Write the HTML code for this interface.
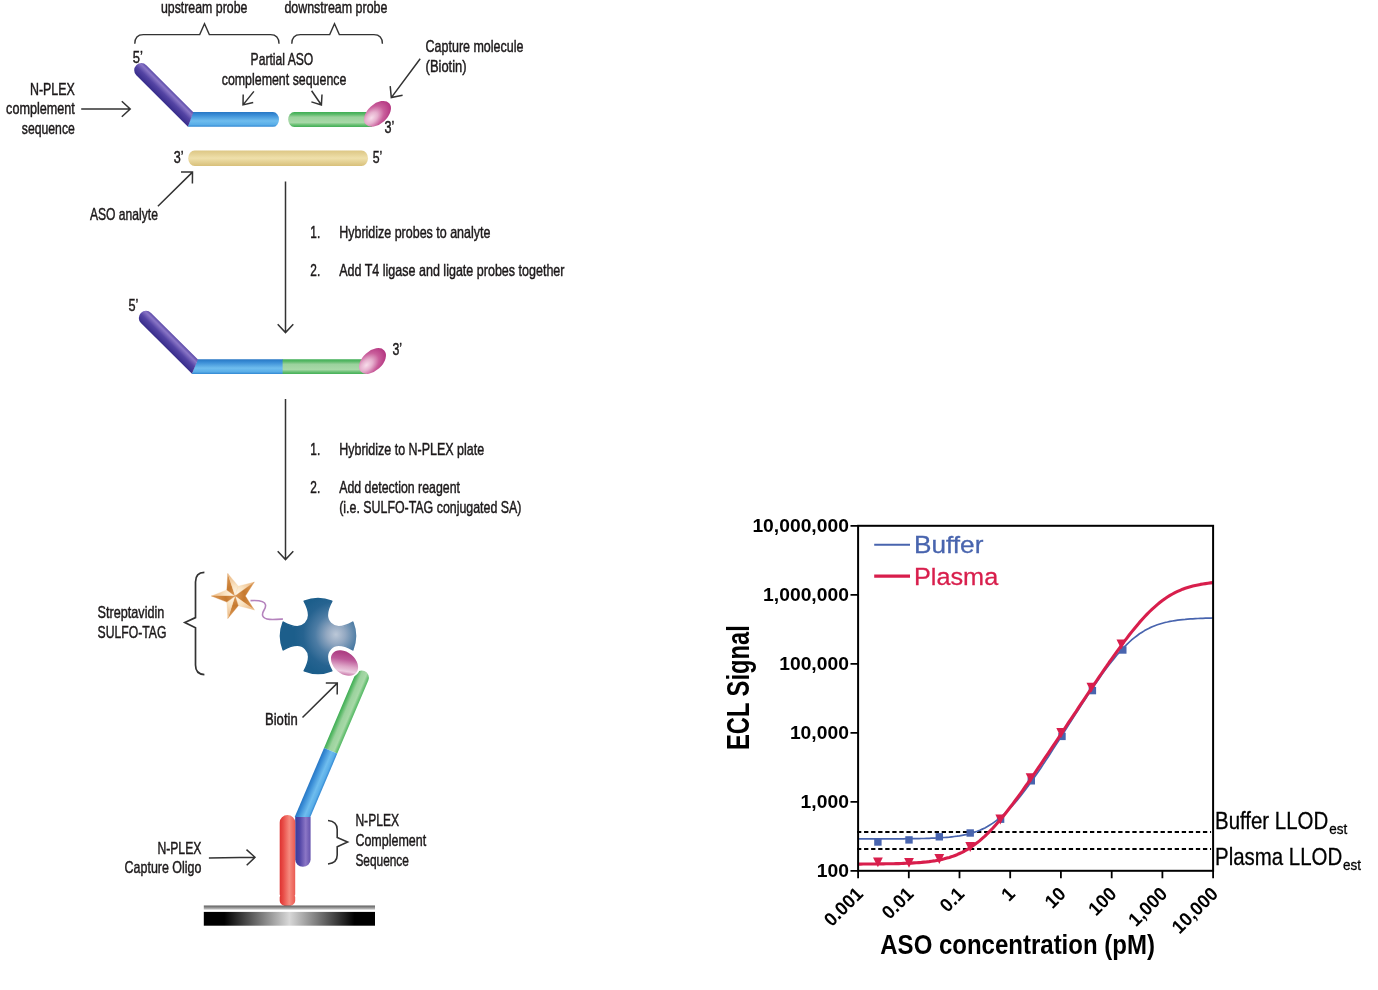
<!DOCTYPE html>
<html><head><meta charset="utf-8"><title>ASO N-PLEX assay</title>
<style>
html,body{margin:0;padding:0;background:#fff;overflow:hidden;}
svg{display:block;}
text{font-family:"Liberation Sans",sans-serif;}
</style></head>
<body>
<svg width="1378" height="990" viewBox="0 0 1378 990">
<rect width="1378" height="990" fill="#ffffff"/>

<defs>
<linearGradient id="gBlue" x1="0" y1="0" x2="0" y2="1">
<stop offset="0" stop-color="#2777c4"/><stop offset="0.2" stop-color="#3a8dd6"/><stop offset="0.6" stop-color="#6fbdee"/><stop offset="0.85" stop-color="#5aaee8"/><stop offset="1" stop-color="#3187d2"/>
</linearGradient>
<linearGradient id="gGreen" x1="0" y1="0" x2="0" y2="1">
<stop offset="0" stop-color="#3fae55"/><stop offset="0.14" stop-color="#5ab968"/><stop offset="0.34" stop-color="#9bd29d"/><stop offset="0.7" stop-color="#a8d9a8"/><stop offset="0.88" stop-color="#62bd6e"/><stop offset="1" stop-color="#45b058"/>
</linearGradient>
<linearGradient id="gYellow" x1="0" y1="0" x2="0" y2="1">
<stop offset="0" stop-color="#dcc684"/><stop offset="0.5" stop-color="#efe0ab"/><stop offset="1" stop-color="#d8c07a"/>
</linearGradient>
<linearGradient id="gPurple" x1="0" y1="0" x2="0" y2="1">
<stop offset="0" stop-color="#5b4aa9"/><stop offset="0.22" stop-color="#8a76c6"/><stop offset="0.55" stop-color="#5444a4"/><stop offset="1" stop-color="#372c8a"/>
</linearGradient>
<linearGradient id="gRed" x1="0" y1="0" x2="0" y2="1">
<stop offset="0" stop-color="#d9262c"/><stop offset="0.5" stop-color="#f47a72"/><stop offset="1" stop-color="#dc2a30"/>
</linearGradient>
<radialGradient id="gBiotin" cx="0.27" cy="0.45" r="0.75">
<stop offset="0" stop-color="#f7dcea"/><stop offset="0.3" stop-color="#e6b0ce"/><stop offset="0.62" stop-color="#c95e9b"/><stop offset="1" stop-color="#b2327e"/>
</radialGradient>
<radialGradient id="gSA" gradientUnits="userSpaceOnUse" cx="336" cy="634.5" r="42">
<stop offset="0" stop-color="#bcc8d8"/><stop offset="0.22" stop-color="#94a9c2"/><stop offset="0.5" stop-color="#4d7ca4"/><stop offset="0.78" stop-color="#266390"/><stop offset="1" stop-color="#1c5e8b"/>
</radialGradient>
<linearGradient id="gBlue3" x1="0" y1="1" x2="0" y2="0">
<stop offset="0" stop-color="#2777c4"/><stop offset="0.2" stop-color="#3a8dd6"/><stop offset="0.6" stop-color="#6fbdee"/><stop offset="0.85" stop-color="#5aaee8"/><stop offset="1" stop-color="#3187d2"/>
</linearGradient>
<linearGradient id="gGreen3" x1="0" y1="1" x2="0" y2="0">
<stop offset="0" stop-color="#3fae55"/><stop offset="0.14" stop-color="#5ab968"/><stop offset="0.38" stop-color="#9bd29d"/><stop offset="0.72" stop-color="#a8d9a8"/><stop offset="0.9" stop-color="#6cc276"/><stop offset="1" stop-color="#55ba66"/>
</linearGradient>
<linearGradient id="gPlate" x1="0" y1="0" x2="1" y2="0">
<stop offset="0" stop-color="#000"/><stop offset="0.12" stop-color="#000"/><stop offset="0.5" stop-color="#d8d8d8"/><stop offset="0.88" stop-color="#000"/><stop offset="1" stop-color="#000"/>
</linearGradient>
<linearGradient id="gPlateTop" x1="0" y1="0" x2="0" y2="1">
<stop offset="0" stop-color="#5c5c5c"/><stop offset="0.45" stop-color="#8c8c8c"/><stop offset="1" stop-color="#d0d0d0"/>
</linearGradient>
</defs>

<g id="shapes">
<path d="M134.8,43.8 Q134.8,34.6 143.3,34.6 L199.7,34.6 L204.5,23.8 L209.3,34.6 L270.5,34.6 Q279.0,34.6 279.0,43.8" fill="none" stroke="#333333" stroke-width="1.4" stroke-linejoin="miter"/>
<path d="M291.8,43.8 Q291.8,34.6 300.3,34.6 L329.7,34.6 L334.5,23.8 L339.3,34.6 L373.9,34.6 Q382.4,34.6 382.4,43.8" fill="none" stroke="#333333" stroke-width="1.4" stroke-linejoin="miter"/>
<path d="M192.9,112 L273,112 A6,7.4 0 0 1 273,126.8 L187.9,126.8 Z" fill="url(#gBlue)"/>
<path d="M0,-7.10 L66.48,-7.10 L72.97,7.10 L0,7.10 A7.10,7.10 0 0 1 0,-7.10 Z" fill="url(#gPurple)" transform="translate(141.30,70.20) rotate(44.94)"/>
<path d="M294.2,112.1 L372.0,112.1 L372.0,126.9 L294.2,126.9 A6.0,7.4 0 0 1 294.2,112.1 Z" fill="url(#gGreen)"/>
<ellipse cx="0" cy="0" rx="15.8" ry="9.9" fill="url(#gBiotin)" transform="translate(377.5,113.8) rotate(-42)"/>
<path d="M194.7,150.4 L361.5,150.4 A6.5,7.8 0 0 1 361.5,166.0 L194.7,166.0 A6.5,7.8 0 0 1 194.7,150.4 Z" fill="url(#gYellow)"/>
<path d="M81.2,109.0 L130.2,109.0 M121.8,116.8 L130.2,109.0 L121.8,101.2" fill="none" stroke="#333333" stroke-width="1.5" stroke-linecap="butt" stroke-linejoin="miter"/>
<path d="M157.9,206.3 L192.5,172.1 M192.4,183.6 L192.5,172.1 L181.0,172.0" fill="none" stroke="#333333" stroke-width="1.5" stroke-linecap="butt" stroke-linejoin="miter"/>
<path d="M420.2,58.8 L391.3,97.6 M390.2,86.1 L391.3,97.6 L402.6,95.3" fill="none" stroke="#333333" stroke-width="1.5" stroke-linecap="butt" stroke-linejoin="miter"/>
<path d="M253.9,91.4 L243.0,104.9 M243.2,94.4 L243.0,104.9 L253.2,102.5" fill="none" stroke="#333333" stroke-width="1.5" stroke-linecap="butt" stroke-linejoin="miter"/>
<path d="M311.6,90.8 L321.4,105.0 M311.4,101.9 L321.4,105.0 L322.0,94.5" fill="none" stroke="#333333" stroke-width="1.5" stroke-linecap="butt" stroke-linejoin="miter"/>
<path d="M285.5,181.6 L285.5,332.6 M277.7,324.2 L285.5,332.6 L293.3,324.2" fill="none" stroke="#333333" stroke-width="1.5" stroke-linecap="butt" stroke-linejoin="miter"/>
<path d="M285.5,399.0 L285.5,559.6 M277.7,551.2 L285.5,559.6 L293.3,551.2" fill="none" stroke="#333333" stroke-width="1.5" stroke-linecap="butt" stroke-linejoin="miter"/>
<path d="M197.6,359.3 L283,359.3 L283,374 L191.8,374 Z" fill="url(#gBlue)"/>
<path d="M0,-7.20 L66.13,-7.20 L71.96,7.20 L0,7.20 A7.20,7.20 0 0 1 0,-7.20 Z" fill="url(#gPurple)" transform="translate(146.00,318.00) rotate(44.85)"/>
<path d="M282.6,359.3 L368.0,359.3 L368.0,374.0 L282.6,374.0 Z" fill="url(#gGreen)"/>
<ellipse cx="0" cy="0" rx="15.8" ry="9.9" fill="url(#gBiotin)" transform="translate(372.5,361.0) rotate(-42)"/>
<path d="M250.5,600.6 C257,600.2 264.6,600.2 265.5,604.8 C266.4,609.5 261,611.5 262.8,616 C264.6,620.5 274,619.6 283,619.0" fill="none" stroke="#b583bd" stroke-width="1.6"/>
<defs><radialGradient id="gStL" gradientUnits="userSpaceOnUse" cx="235.1" cy="596.0" r="23.7"><stop offset="0" stop-color="#fffaf0"/><stop offset="0.45" stop-color="#f9e2c0"/><stop offset="1" stop-color="#e9b078"/></radialGradient><radialGradient id="gStD" gradientUnits="userSpaceOnUse" cx="235.1" cy="596.0" r="23.7"><stop offset="0" stop-color="#dc9a58"/><stop offset="0.4" stop-color="#c67a30"/><stop offset="1" stop-color="#dd9a55"/></radialGradient></defs>
<path d="M235.1,596.0 L211.4,596.0 L226.8,589.9 Z" fill="url(#gStL)" stroke="#f3cfa0" stroke-width="0.3"/>
<path d="M235.1,596.0 L226.8,589.9 L227.8,573.5 Z" fill="url(#gStD)" stroke="#cf8440" stroke-width="0.3"/>
<path d="M235.1,596.0 L227.8,573.5 L238.3,586.2 Z" fill="url(#gStL)" stroke="#f3cfa0" stroke-width="0.3"/>
<path d="M235.1,596.0 L238.3,586.2 L254.3,582.1 Z" fill="url(#gStL)" stroke="#f3cfa0" stroke-width="0.3"/>
<path d="M235.1,596.0 L254.3,582.1 L245.4,596.0 Z" fill="url(#gStD)" stroke="#cf8440" stroke-width="0.3"/>
<path d="M235.1,596.0 L245.4,596.0 L254.3,609.9 Z" fill="url(#gStD)" stroke="#cf8440" stroke-width="0.3"/>
<path d="M235.1,596.0 L254.3,609.9 L238.3,605.8 Z" fill="url(#gStL)" stroke="#f3cfa0" stroke-width="0.3"/>
<path d="M235.1,596.0 L238.3,605.8 L227.8,618.5 Z" fill="url(#gStD)" stroke="#cf8440" stroke-width="0.3"/>
<path d="M235.1,596.0 L227.8,618.5 L226.8,602.1 Z" fill="url(#gStL)" stroke="#f3cfa0" stroke-width="0.3"/>
<path d="M235.1,596.0 L226.8,602.1 L211.4,596.0 Z" fill="url(#gStD)" stroke="#cf8440" stroke-width="0.3"/>
<path d="M352.80,649.85 C347.80,647.10 344.20,645.35 338.70,645.35 A11.35,11.35 0 0 0 327.35,656.70 C327.35,662.20 329.10,665.80 331.85,670.80 A37.45,37.45 0 0 1 304.15,670.80 C306.90,665.80 308.65,662.20 308.65,656.70 A11.35,11.35 0 0 0 297.30,645.35 C291.80,645.35 288.20,647.10 283.20,649.85 A37.45,37.45 0 0 1 283.20,622.15 C288.20,624.90 291.80,626.65 297.30,626.65 A11.35,11.35 0 0 0 308.65,615.30 C308.65,609.80 306.90,606.20 304.15,601.20 A37.45,37.45 0 0 1 331.85,601.20 C329.10,606.20 327.35,609.80 327.35,615.30 A11.35,11.35 0 0 0 338.70,626.65 C344.20,626.65 347.80,624.90 352.80,622.15 A37.45,37.45 0 0 1 352.80,649.85 Z" fill="url(#gSA)" stroke="url(#gSA)" stroke-width="1.5" stroke-linejoin="round"/>
<g transform="translate(361.7,677.6) rotate(113.0)"><path d="M0,-7.2 L79.5,-7.2 L79.5,7.2 L0,7.2 A7.2,7.2 0 0 1 0,-7.2 Z" fill="url(#gGreen3)"/><path d="M79.5,-7.2 L148.4,-7.2 L154.5,7.2 L79.5,7.2 Z" fill="url(#gBlue3)"/></g>
<defs><linearGradient id="gBio3" gradientUnits="userSpaceOnUse" x1="-5.2" y1="-8.6" x2="5.8" y2="9.6"><stop offset="0" stop-color="#ae3f84"/><stop offset="0.3" stop-color="#bd5a9a"/><stop offset="0.62" stop-color="#dda4c6"/><stop offset="0.85" stop-color="#eccbe0"/><stop offset="1" stop-color="#cf86b2"/></linearGradient></defs>
<ellipse cx="0" cy="0" rx="16.1" ry="11.5" fill="url(#gBio3)" stroke="#ffffff" stroke-width="1.6" transform="translate(344.5,663.0) rotate(40)"/>
<defs><linearGradient id="gPurpleH" x1="0" y1="0" x2="1" y2="0"><stop offset="0" stop-color="#3a3c9b"/><stop offset="0.3" stop-color="#5246a6"/><stop offset="0.68" stop-color="#8b76c6"/><stop offset="1" stop-color="#6452ac"/></linearGradient><linearGradient id="gRedH" x1="0" y1="0" x2="1" y2="0"><stop offset="0" stop-color="#de3230"/><stop offset="0.25" stop-color="#e9504a"/><stop offset="0.62" stop-color="#f58a7e"/><stop offset="1" stop-color="#ea5a52"/></linearGradient></defs>
<path d="M295.2,817 L310.6,817 L310.6,859.6 A7.7,7.2 0 0 1 295.2,859.6 Z" fill="url(#gPurpleH)"/>
<path d="M279.7,822.4 A7.75,7.4 0 0 1 295.2,822.4 L295.2,894.6 L294.7,895.8 L295.2,897 L295.2,901 A7.75,5.2 0 0 1 279.7,901 L279.7,897 L280.2,895.8 L279.7,894.6 Z" fill="url(#gRedH)"/>
<rect x="203.8" y="905.5" width="171.2" height="4.2" fill="url(#gPlateTop)"/>
<rect x="203.8" y="911.9" width="171.2" height="13.8" fill="url(#gPlate)"/>
<path d="M204.4,572.4 Q195.5,572.6 195.5,582 L195.5,617.6 L184.8,622.6 L195.5,627.8 L195.5,665 Q195.5,674.3 204.4,674.6" fill="none" stroke="#333333" stroke-width="1.7"/>
<path d="M328.0,820.5 Q337.2,821.5 337.2,829.5 L337.2,837.5 L347.6,842.1 L337.2,846.8 L337.2,855 Q337.2,863 328.0,864" fill="none" stroke="#333333" stroke-width="1.6"/>
<path d="M302.5,717.5 L337.3,683.1 M337.2,694.6 L337.3,683.1 L325.8,683.0" fill="none" stroke="#333333" stroke-width="1.5" stroke-linecap="butt" stroke-linejoin="miter"/>
<path d="M208.9,858.0 L255.0,857.3 M246.7,865.3 L255.0,857.3 L246.5,849.6" fill="none" stroke="#333333" stroke-width="1.5" stroke-linecap="butt" stroke-linejoin="miter"/>
<path d="M857.0,832.0 L1211.1,832.0" stroke="#000000" stroke-width="2" stroke-dasharray="4.3,2.76" fill="none"/>
<path d="M857.0,849.0 L1211.1,849.0" stroke="#000000" stroke-width="2" stroke-dasharray="4.3,2.76" fill="none"/>
<path d="M858.1,838.9 L860.6,838.9 L863.2,838.9 L865.7,838.9 L868.2,838.9 L870.8,838.9 L873.3,838.9 L875.8,838.9 L878.4,838.9 L880.9,838.9 L883.5,838.9 L886.0,838.9 L888.5,838.9 L891.1,838.8 L893.6,838.8 L896.1,838.8 L898.7,838.8 L901.2,838.8 L903.7,838.8 L906.3,838.7 L908.8,838.7 L911.3,838.7 L913.9,838.7 L916.4,838.6 L919.0,838.6 L921.5,838.5 L924.0,838.5 L926.6,838.4 L929.1,838.3 L931.6,838.2 L934.2,838.1 L936.7,838.0 L939.2,837.9 L941.8,837.7 L944.3,837.5 L946.8,837.3 L949.4,837.1 L951.9,836.8 L954.4,836.5 L957.0,836.2 L959.5,835.8 L962.1,835.3 L964.6,834.8 L967.1,834.3 L969.7,833.6 L972.2,832.9 L974.7,832.1 L977.3,831.2 L979.8,830.2 L982.3,829.1 L984.9,827.9 L987.4,826.5 L989.9,825.0 L992.5,823.4 L995.0,821.6 L997.6,819.7 L1000.1,817.7 L1002.6,815.5 L1005.2,813.1 L1007.7,810.6 L1010.2,808.0 L1012.8,805.3 L1015.3,802.4 L1017.8,799.4 L1020.4,796.3 L1022.9,793.0 L1025.4,789.7 L1028.0,786.3 L1030.5,782.8 L1033.0,779.2 L1035.6,775.6 L1038.1,771.9 L1040.7,768.2 L1043.2,764.4 L1045.7,760.6 L1048.3,756.7 L1050.8,752.8 L1053.3,748.9 L1055.9,744.9 L1058.4,741.0 L1060.9,737.0 L1063.5,733.0 L1066.0,729.0 L1068.5,725.1 L1071.1,721.1 L1073.6,717.1 L1076.2,713.1 L1078.7,709.2 L1081.2,705.3 L1083.8,701.4 L1086.3,697.5 L1088.8,693.6 L1091.4,689.8 L1093.9,686.1 L1096.4,682.4 L1099.0,678.7 L1101.5,675.1 L1104.0,671.6 L1106.6,668.1 L1109.1,664.8 L1111.7,661.5 L1114.2,658.4 L1116.7,655.3 L1119.3,652.4 L1121.8,649.6 L1124.3,646.9 L1126.9,644.4 L1129.4,642.0 L1131.9,639.7 L1134.5,637.6 L1137.0,635.7 L1139.5,633.8 L1142.1,632.2 L1144.6,630.6 L1147.1,629.2 L1149.7,627.9 L1152.2,626.8 L1154.8,625.7 L1157.3,624.8 L1159.8,624.0 L1162.4,623.2 L1164.9,622.5 L1167.4,622.0 L1170.0,621.4 L1172.5,621.0 L1175.0,620.6 L1177.6,620.2 L1180.1,619.9 L1182.6,619.6 L1185.2,619.4 L1187.7,619.1 L1190.3,618.9 L1192.8,618.8 L1195.3,618.6 L1197.9,618.5 L1200.4,618.4 L1202.9,618.3 L1205.5,618.2 L1208.0,618.2 L1210.5,618.1 L1213.1,618.0" fill="none" stroke="#4864ae" stroke-width="1.7" stroke-linejoin="round"/>
<rect x="874.2" y="838.3" width="7.4" height="7.4" fill="#4864ae"/>
<rect x="905.3" y="836.2" width="7.4" height="7.4" fill="#4864ae"/>
<rect x="935.6" y="833.1" width="7.4" height="7.4" fill="#4864ae"/>
<rect x="966.5" y="829.3" width="7.4" height="7.4" fill="#4864ae"/>
<rect x="996.9" y="815.5" width="7.4" height="7.4" fill="#4864ae"/>
<rect x="1027.6" y="777.1" width="7.4" height="7.4" fill="#4864ae"/>
<rect x="1058.3" y="732.7" width="7.4" height="7.4" fill="#4864ae"/>
<rect x="1088.7" y="686.9" width="7.4" height="7.4" fill="#4864ae"/>
<rect x="1119.1" y="646.3" width="7.4" height="7.4" fill="#4864ae"/>
<path d="M858.1,864.1 L860.6,864.1 L863.2,864.0 L865.7,864.0 L868.2,864.0 L870.8,864.0 L873.3,864.0 L875.8,864.0 L878.4,863.9 L880.9,863.9 L883.5,863.9 L886.0,863.8 L888.5,863.8 L891.1,863.8 L893.6,863.7 L896.1,863.6 L898.7,863.6 L901.2,863.5 L903.7,863.4 L906.3,863.3 L908.8,863.2 L911.3,863.1 L913.9,862.9 L916.4,862.8 L919.0,862.6 L921.5,862.4 L924.0,862.1 L926.6,861.9 L929.1,861.6 L931.6,861.2 L934.2,860.9 L936.7,860.4 L939.2,859.9 L941.8,859.4 L944.3,858.8 L946.8,858.1 L949.4,857.4 L951.9,856.6 L954.4,855.7 L957.0,854.7 L959.5,853.5 L962.1,852.3 L964.6,851.0 L967.1,849.6 L969.7,848.0 L972.2,846.3 L974.7,844.5 L977.3,842.6 L979.8,840.6 L982.3,838.4 L984.9,836.1 L987.4,833.7 L989.9,831.1 L992.5,828.5 L995.0,825.7 L997.6,822.8 L1000.1,819.9 L1002.6,816.9 L1005.2,813.7 L1007.7,810.5 L1010.2,807.3 L1012.8,803.9 L1015.3,800.5 L1017.8,797.1 L1020.4,793.6 L1022.9,790.1 L1025.4,786.5 L1028.0,782.9 L1030.5,779.2 L1033.0,775.6 L1035.6,771.9 L1038.1,768.2 L1040.7,764.4 L1043.2,760.7 L1045.7,756.9 L1048.3,753.2 L1050.8,749.4 L1053.3,745.6 L1055.9,741.8 L1058.4,738.0 L1060.9,734.2 L1063.5,730.3 L1066.0,726.5 L1068.5,722.7 L1071.1,718.9 L1073.6,715.1 L1076.2,711.3 L1078.7,707.4 L1081.2,703.6 L1083.8,699.8 L1086.3,696.0 L1088.8,692.3 L1091.4,688.5 L1093.9,684.7 L1096.4,681.0 L1099.0,677.2 L1101.5,673.5 L1104.0,669.8 L1106.6,666.2 L1109.1,662.5 L1111.7,658.9 L1114.2,655.3 L1116.7,651.8 L1119.3,648.3 L1121.8,644.8 L1124.3,641.4 L1126.9,638.1 L1129.4,634.8 L1131.9,631.6 L1134.5,628.4 L1137.0,625.4 L1139.5,622.4 L1142.1,619.5 L1144.6,616.8 L1147.1,614.1 L1149.7,611.5 L1152.2,609.1 L1154.8,606.8 L1157.3,604.6 L1159.8,602.5 L1162.4,600.5 L1164.9,598.7 L1167.4,597.0 L1170.0,595.4 L1172.5,594.0 L1175.0,592.6 L1177.6,591.4 L1180.1,590.3 L1182.6,589.2 L1185.2,588.3 L1187.7,587.5 L1190.3,586.7 L1192.8,586.0 L1195.3,585.4 L1197.9,584.9 L1200.4,584.4 L1202.9,584.0 L1205.5,583.6 L1208.0,583.2 L1210.5,582.9 L1213.1,582.6" fill="none" stroke="#d81e4c" stroke-width="3.1" stroke-linejoin="round"/>
<path d="M873.0,857.4 L882.8,857.4 L877.9,867.2 Z" fill="#d81e4c"/>
<path d="M904.1,858.0 L913.9,858.0 L909.0,867.8 Z" fill="#d81e4c"/>
<path d="M934.4,854.1 L944.2,854.1 L939.3,863.9 Z" fill="#d81e4c"/>
<path d="M965.3,842.1 L975.1,842.1 L970.2,851.9 Z" fill="#d81e4c"/>
<path d="M995.4,814.6 L1005.2,814.6 L1000.3,824.4 Z" fill="#d81e4c"/>
<path d="M1025.7,773.2 L1035.5,773.2 L1030.6,783.0 Z" fill="#d81e4c"/>
<path d="M1056.3,728.1 L1066.1,728.1 L1061.2,737.9 Z" fill="#d81e4c"/>
<path d="M1086.5,682.8 L1096.3,682.8 L1091.4,692.6 Z" fill="#d81e4c"/>
<path d="M1116.5,639.4 L1126.3,639.4 L1121.4,649.2 Z" fill="#d81e4c"/>
<rect x="858.1" y="525.8" width="355.0" height="345.0" fill="none" stroke="#000000" stroke-width="2"/>
<path d="M850.5,870.8 L858.1,870.8 M850.5,801.8 L858.1,801.8 M850.5,732.8 L858.1,732.8 M850.5,663.8 L858.1,663.8 M850.5,594.8 L858.1,594.8 M850.5,525.8 L858.1,525.8 M858.1,870.8 L858.1,878.2 M908.8,870.8 L908.8,878.2 M959.5,870.8 L959.5,878.2 M1010.2,870.8 L1010.2,878.2 M1060.9,870.8 L1060.9,878.2 M1111.7,870.8 L1111.7,878.2 M1162.4,870.8 L1162.4,878.2 M1213.1,870.8 L1213.1,878.2 " stroke="#000000" stroke-width="1.8" fill="none"/>
<path d="M874.2,544.8 L910,544.8" stroke="#4864ae" stroke-width="1.9"/>
<path d="M874.2,576.2 L910,576.2" stroke="#d81e4c" stroke-width="3.2"/>
</g>
<g id="labels">
<text x="160.9" y="13.1" font-size="16.4" textLength="86.5" lengthAdjust="spacingAndGlyphs" fill="#1c191a" stroke="#1c191a" stroke-width="0.45">upstream probe</text>
<text x="284.4" y="13.1" font-size="16.4" textLength="103.0" lengthAdjust="spacingAndGlyphs" fill="#1c191a" stroke="#1c191a" stroke-width="0.45">downstream probe</text>
<text x="132.8" y="62.8" font-size="16.4" textLength="10.1" lengthAdjust="spacingAndGlyphs" fill="#1c191a" stroke="#1c191a" stroke-width="0.45">5’</text>
<text x="250.6" y="64.9" font-size="16.4" textLength="62.7" lengthAdjust="spacingAndGlyphs" fill="#1c191a" stroke="#1c191a" stroke-width="0.45">Partial ASO</text>
<text x="221.7" y="84.5" font-size="16.4" textLength="124.7" lengthAdjust="spacingAndGlyphs" fill="#1c191a" stroke="#1c191a" stroke-width="0.45">complement sequence</text>
<text x="425.6" y="52.4" font-size="16.4" textLength="97.8" lengthAdjust="spacingAndGlyphs" fill="#1c191a" stroke="#1c191a" stroke-width="0.45">Capture molecule</text>
<text x="425.6" y="72.1" font-size="16.4" textLength="41.0" lengthAdjust="spacingAndGlyphs" fill="#1c191a" stroke="#1c191a" stroke-width="0.45">(Biotin)</text>
<text x="30.0" y="94.5" font-size="16.4" textLength="44.8" lengthAdjust="spacingAndGlyphs" fill="#1c191a" stroke="#1c191a" stroke-width="0.45">N-PLEX</text>
<text x="6.1" y="114.0" font-size="16.4" textLength="68.7" lengthAdjust="spacingAndGlyphs" fill="#1c191a" stroke="#1c191a" stroke-width="0.45">complement</text>
<text x="21.8" y="133.6" font-size="16.4" textLength="53.0" lengthAdjust="spacingAndGlyphs" fill="#1c191a" stroke="#1c191a" stroke-width="0.45">sequence</text>
<text x="384.5" y="132.8" font-size="16.4" textLength="9.8" lengthAdjust="spacingAndGlyphs" fill="#1c191a" stroke="#1c191a" stroke-width="0.45">3’</text>
<text x="173.7" y="162.8" font-size="16.4" textLength="9.8" lengthAdjust="spacingAndGlyphs" fill="#1c191a" stroke="#1c191a" stroke-width="0.45">3’</text>
<text x="372.7" y="162.8" font-size="16.4" textLength="9.6" lengthAdjust="spacingAndGlyphs" fill="#1c191a" stroke="#1c191a" stroke-width="0.45">5’</text>
<text x="89.9" y="219.9" font-size="16.4" textLength="68.0" lengthAdjust="spacingAndGlyphs" fill="#1c191a" stroke="#1c191a" stroke-width="0.45">ASO analyte</text>
<text x="310.3" y="238.2" font-size="16.4" textLength="9.9" lengthAdjust="spacingAndGlyphs" fill="#1c191a" stroke="#1c191a" stroke-width="0.45">1.</text>
<text x="339.2" y="238.2" font-size="16.4" textLength="151.2" lengthAdjust="spacingAndGlyphs" fill="#1c191a" stroke="#1c191a" stroke-width="0.45">Hybridize probes to analyte</text>
<text x="310.3" y="276.4" font-size="16.4" textLength="9.9" lengthAdjust="spacingAndGlyphs" fill="#1c191a" stroke="#1c191a" stroke-width="0.45">2.</text>
<text x="339.2" y="276.4" font-size="16.4" textLength="225.3" lengthAdjust="spacingAndGlyphs" fill="#1c191a" stroke="#1c191a" stroke-width="0.45">Add T4 ligase and ligate probes together</text>
<text x="128.4" y="311.4" font-size="16.4" textLength="9.9" lengthAdjust="spacingAndGlyphs" fill="#1c191a" stroke="#1c191a" stroke-width="0.45">5’</text>
<text x="392.4" y="354.9" font-size="16.4" textLength="9.6" lengthAdjust="spacingAndGlyphs" fill="#1c191a" stroke="#1c191a" stroke-width="0.45">3’</text>
<text x="310.3" y="455.1" font-size="16.4" textLength="9.9" lengthAdjust="spacingAndGlyphs" fill="#1c191a" stroke="#1c191a" stroke-width="0.45">1.</text>
<text x="339.2" y="455.1" font-size="16.4" textLength="145.0" lengthAdjust="spacingAndGlyphs" fill="#1c191a" stroke="#1c191a" stroke-width="0.45">Hybridize to N-PLEX plate</text>
<text x="310.3" y="493.4" font-size="16.4" textLength="9.9" lengthAdjust="spacingAndGlyphs" fill="#1c191a" stroke="#1c191a" stroke-width="0.45">2.</text>
<text x="339.2" y="493.4" font-size="16.4" textLength="120.8" lengthAdjust="spacingAndGlyphs" fill="#1c191a" stroke="#1c191a" stroke-width="0.45">Add detection reagent</text>
<text x="339.2" y="513.1" font-size="16.4" textLength="182.2" lengthAdjust="spacingAndGlyphs" fill="#1c191a" stroke="#1c191a" stroke-width="0.45">(i.e. SULFO-TAG conjugated SA)</text>
<text x="97.6" y="618.2" font-size="16.4" textLength="66.7" lengthAdjust="spacingAndGlyphs" fill="#1c191a" stroke="#1c191a" stroke-width="0.45">Streptavidin</text>
<text x="97.6" y="638.3" font-size="16.4" textLength="68.8" lengthAdjust="spacingAndGlyphs" fill="#1c191a" stroke="#1c191a" stroke-width="0.45">SULFO-TAG</text>
<text x="265.0" y="725.2" font-size="16.4" textLength="32.7" lengthAdjust="spacingAndGlyphs" fill="#1c191a" stroke="#1c191a" stroke-width="0.45">Biotin</text>
<text x="355.4" y="826.0" font-size="16.4" textLength="43.6" lengthAdjust="spacingAndGlyphs" fill="#1c191a" stroke="#1c191a" stroke-width="0.45">N-PLEX</text>
<text x="355.4" y="846.2" font-size="16.4" textLength="70.8" lengthAdjust="spacingAndGlyphs" fill="#1c191a" stroke="#1c191a" stroke-width="0.45">Complement</text>
<text x="355.4" y="865.8" font-size="16.4" textLength="53.5" lengthAdjust="spacingAndGlyphs" fill="#1c191a" stroke="#1c191a" stroke-width="0.45">Sequence</text>
<text x="157.4" y="854.4" font-size="16.4" textLength="44.0" lengthAdjust="spacingAndGlyphs" fill="#1c191a" stroke="#1c191a" stroke-width="0.45">N-PLEX</text>
<text x="124.6" y="872.5" font-size="16.4" textLength="76.8" lengthAdjust="spacingAndGlyphs" fill="#1c191a" stroke="#1c191a" stroke-width="0.45">Capture Oligo</text>
<text x="816.7" y="876.9" font-size="19.0" font-weight="bold" textLength="32.2" lengthAdjust="spacingAndGlyphs" fill="#000">100</text>
<text x="800.6" y="807.9" font-size="19.0" font-weight="bold" textLength="48.3" lengthAdjust="spacingAndGlyphs" fill="#000">1,000</text>
<text x="789.9" y="738.9" font-size="19.0" font-weight="bold" textLength="59.0" lengthAdjust="spacingAndGlyphs" fill="#000">10,000</text>
<text x="779.2" y="669.9" font-size="19.0" font-weight="bold" textLength="69.7" lengthAdjust="spacingAndGlyphs" fill="#000">100,000</text>
<text x="763.1" y="600.9" font-size="19.0" font-weight="bold" textLength="85.8" lengthAdjust="spacingAndGlyphs" fill="#000">1,000,000</text>
<text x="752.4" y="531.9" font-size="19.0" font-weight="bold" textLength="96.5" lengthAdjust="spacingAndGlyphs" fill="#000">10,000,000</text>
<text transform="translate(864.1,895.1) rotate(-45)" x="-45.9" y="0" font-size="19.0" font-weight="bold" textLength="45.9" lengthAdjust="spacingAndGlyphs" fill="#000">0.001</text>
<text transform="translate(914.8,895.1) rotate(-45)" x="-35.7" y="0" font-size="19.0" font-weight="bold" textLength="35.7" lengthAdjust="spacingAndGlyphs" fill="#000">0.01</text>
<text transform="translate(965.5,895.1) rotate(-45)" x="-25.5" y="0" font-size="19.0" font-weight="bold" textLength="25.5" lengthAdjust="spacingAndGlyphs" fill="#000">0.1</text>
<text transform="translate(1016.2,895.1) rotate(-45)" x="-10.2" y="0" font-size="19.0" font-weight="bold" textLength="10.2" lengthAdjust="spacingAndGlyphs" fill="#000">1</text>
<text transform="translate(1066.9,895.1) rotate(-45)" x="-20.4" y="0" font-size="19.0" font-weight="bold" textLength="20.4" lengthAdjust="spacingAndGlyphs" fill="#000">10</text>
<text transform="translate(1117.7,895.1) rotate(-45)" x="-30.6" y="0" font-size="19.0" font-weight="bold" textLength="30.6" lengthAdjust="spacingAndGlyphs" fill="#000">100</text>
<text transform="translate(1168.4,895.1) rotate(-45)" x="-45.9" y="0" font-size="19.0" font-weight="bold" textLength="45.9" lengthAdjust="spacingAndGlyphs" fill="#000">1,000</text>
<text transform="translate(1219.1,895.1) rotate(-45)" x="-56.1" y="0" font-size="19.0" font-weight="bold" textLength="56.1" lengthAdjust="spacingAndGlyphs" fill="#000">10,000</text>
<text x="880.3" y="953.6" font-size="26.9" font-weight="bold" textLength="274.6" lengthAdjust="spacingAndGlyphs" fill="#000">ASO concentration (pM)</text>
<text transform="translate(749.1,750.0) rotate(-90)" font-size="30.6" font-weight="bold" textLength="124.8" lengthAdjust="spacingAndGlyphs" fill="#000">ECL Signal</text>
<text x="914.0" y="553" font-size="24.5" textLength="69.4" lengthAdjust="spacingAndGlyphs" fill="#4864ae" stroke="#4864ae" stroke-width="0.3">Buffer</text>
<text x="914.0" y="584.6" font-size="24.5" textLength="84.2" lengthAdjust="spacingAndGlyphs" fill="#d81e4c" stroke="#d81e4c" stroke-width="0.3">Plasma</text>
<text x="1215.0" y="828.8" font-size="24.4" textLength="113.2" lengthAdjust="spacingAndGlyphs" fill="#000" stroke="#000" stroke-width="0.3">Buffer LLOD</text>
<text x="1329.2" y="833.6" font-size="15.5" textLength="18" lengthAdjust="spacingAndGlyphs" fill="#000" stroke="#000" stroke-width="0.3">est</text>
<text x="1215.0" y="865.4" font-size="24.4" textLength="127.2" lengthAdjust="spacingAndGlyphs" fill="#000" stroke="#000" stroke-width="0.3">Plasma LLOD</text>
<text x="1343.0" y="870.3" font-size="15.5" textLength="18" lengthAdjust="spacingAndGlyphs" fill="#000" stroke="#000" stroke-width="0.3">est</text>
</g>
</svg>
</body></html>
